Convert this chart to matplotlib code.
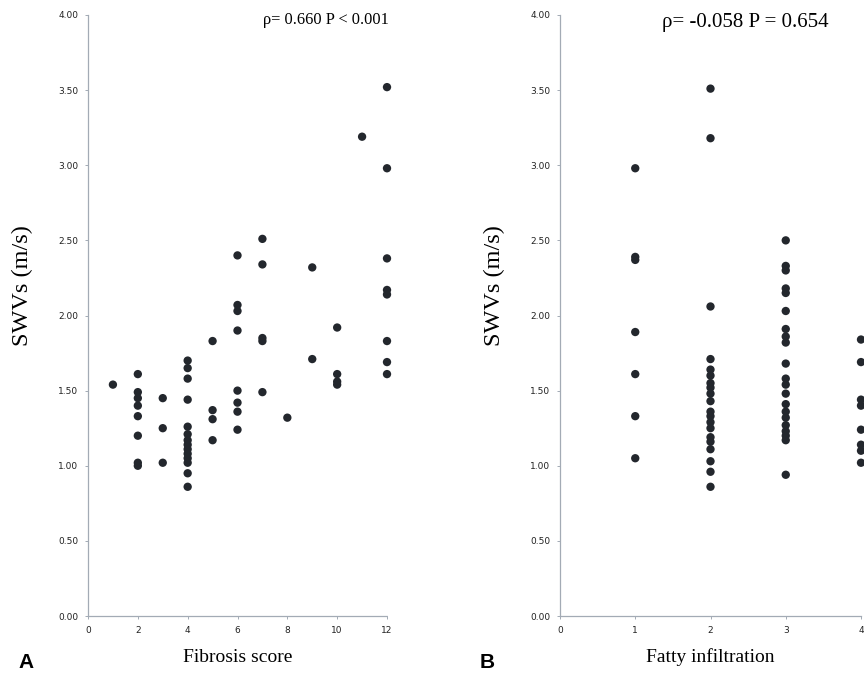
import numpy as np
import matplotlib.pyplot as plt

# Panel A: fibrosis score vs SWVs
fib_x = [1,
         2, 2, 2, 2, 2, 2, 2, 2,
         3, 3, 3,
         4, 4, 4, 4, 4, 4, 4, 4, 4, 4, 4, 4, 4, 4,
         5, 5, 5, 5,
         6, 6, 6, 6, 6, 6, 6, 6,
         7, 7, 7, 7, 7,
         8,
         9, 9,
         10, 10, 10, 10,
         11,
         12, 12, 12, 12, 12, 12, 12, 12]
fib_y = [1.54,
         1.61, 1.49, 1.45, 1.40, 1.33, 1.20, 1.02, 1.00,
         1.45, 1.25, 1.02,
         1.70, 1.65, 1.58, 1.44, 1.26, 1.21, 1.17, 1.14, 1.11, 1.08, 1.05, 1.02, 0.95, 0.86,
         1.83, 1.37, 1.31, 1.17,
         2.40, 2.07, 2.03, 1.90, 1.50, 1.42, 1.36, 1.24,
         2.51, 2.34, 1.85, 1.83, 1.49,
         1.32,
         2.32, 1.71,
         1.92, 1.61, 1.56, 1.54,
         3.19,
         3.52, 2.98, 2.38, 2.17, 2.14, 1.83, 1.69, 1.61]

# Panel B: fatty infiltration vs SWVs
fat_x = [1]*7 + [2]*20 + [3]*21 + [4]*8
fat_y = [2.98, 2.39, 2.37, 1.89, 1.61, 1.33, 1.05,
         3.51, 3.18, 2.06, 1.71, 1.64, 1.60, 1.55, 1.52, 1.48, 1.43, 1.36, 1.33,
         1.29, 1.25, 1.19, 1.16, 1.11, 1.03, 0.96, 0.86,
         2.50, 2.33, 2.30, 2.18, 2.15, 2.03, 1.91, 1.86, 1.82, 1.68, 1.58, 1.54,
         1.48, 1.41, 1.36, 1.32, 1.27, 1.23, 1.20, 1.17, 0.94,
         1.84, 1.69, 1.44, 1.40, 1.24, 1.14, 1.10, 1.02]

yticks = np.arange(0, 4.01, 0.5)
serif = 'Liberation Serif'
dot = '#23272d'
spine_col = '#a3abb5'

fig = plt.figure(figsize=(8.64, 6.77), dpi=100)
ax1 = fig.add_axes([88/864, 61/677, 299/864, 601/677])
ax2 = fig.add_axes([560/864, 61/677, 301/864, 601/677])

panels = [(ax1, fib_x, fib_y, 12, np.arange(0, 13, 2), 'Fibrosis score',
           u'\u03c1= 0.660 P < 0.001', 11.8, 263, 20, -0.184),
          (ax2, fat_x, fat_y, 4, np.arange(0, 5, 1), 'Fatty infiltration',
           u'\u03c1= -0.058 P = 0.654', 15, 662, 22, -0.183)]

for ax, xs, ys, xmax, xt, xlab, stat, stat_fs, stat_x, stat_y, lab_x in panels:
    ax.scatter(xs, ys, s=36, color=dot, edgecolors='none', clip_on=False, zorder=3)
    ax.set_xlim(0, xmax)
    ax.set_ylim(0, 4)
    ax.set_xticks(xt)
    ax.set_yticks(yticks)
    ax.set_yticklabels(['%.2f' % v for v in yticks])
    for s in ['top', 'right']:
        ax.spines[s].set_visible(False)
    for s in ['left', 'bottom']:
        ax.spines[s].set_color(spine_col)
        ax.spines[s].set_linewidth(0.9)
        ax.spines[s].set_linestyle((0, (2, 1)))
    ax.tick_params(axis='both', length=2, width=0.7, color=spine_col,
                   labelsize=6.5, pad=5, labelcolor='#222222')
    ax.set_xlabel(xlab, fontfamily=serif, fontsize=14, labelpad=10)
    ax.set_ylabel('SWVs (m/s)', fontfamily=serif, fontsize=17.5)
    ax.yaxis.set_label_coords(lab_x, 0.55)
    fig.text(stat_x/864, 1 - stat_y/677, stat, ha='left', va='center',
             fontfamily=serif, fontsize=stat_fs)

fig.text(18/864, 1 - 662/677, 'A', fontfamily='Liberation Sans', fontweight='bold',
         fontsize=15, va='center', ha='left')
fig.text(480/864, 1 - 662/677, 'B', fontfamily='Liberation Sans', fontweight='bold',
         fontsize=15, va='center', ha='left')

fig.savefig('out.png', dpi=100)
